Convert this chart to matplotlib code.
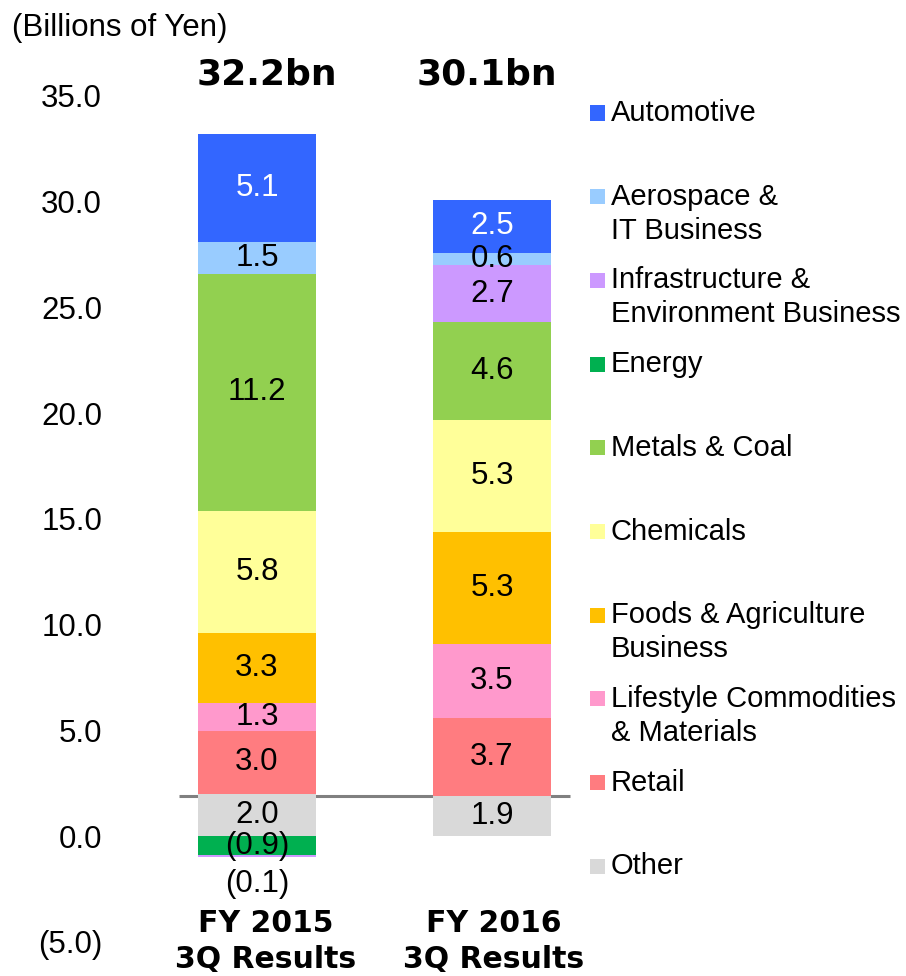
import matplotlib
matplotlib.use('Agg')
import matplotlib.pyplot as plt
from matplotlib.patches import Rectangle
import numpy as np

# Data (billions of yen)
categories = ['FY 2015\n3Q Results', 'FY 2016\n3Q Results']
segments = ['Automotive', 'Aerospace &\nIT Business', 'Infrastructure &\nEnvironment Business',
            'Energy', 'Metals & Coal', 'Chemicals', 'Foods & Agriculture\nBusiness',
            'Lifestyle Commodities\n& Materials', 'Retail', 'Other']
colors = ['#3366FF', '#99CCFF', '#CC99FF', '#00B050', '#92D050', '#FFFF99',
          '#FFC000', '#FF99CC', '#FF7C80', '#D9D9D9']
fy2015 = [5.1, 1.5, -0.1, -0.9, 11.2, 5.8, 3.3, 1.3, 3.0, 2.0]
fy2016 = [2.5, 0.6, 2.7, 0.0, 4.6, 5.3, 5.3, 3.5, 3.7, 1.9]
yticks = [-5, 0, 5, 10, 15, 20, 25, 30, 35]
baseline_value = 1.9

W, H = 906, 976
fig = plt.figure(figsize=(W / 100, H / 100), dpi=100)
ax = fig.add_axes([116 / W, 34 / H, 517 / W, 846 / H])
ax.set_xlim(-0.6, 1.6)
ax.set_ylim(-5, 35)
for s in ax.spines.values():
    s.set_visible(False)
ax.set_xticks([])
ax.set_yticks(yticks)
ax.set_yticklabels([f'({abs(v):.1f})' if v < 0 else f'{v:.1f}' for v in yticks],
                   fontsize=22.5, family='Liberation Sans')
ax.tick_params(axis='y', length=0, pad=10)

width = 0.502
series = np.array([fy2015, fy2016])
x = np.arange(len(categories))
total_dx = [7, -4]     # header nudges (points)
cat_dx = [6, 1]        # category label nudges (points)

# gray reference line behind bars
ax.hlines(baseline_value, -0.33, 1.33, color='#808080', lw=2.2, zorder=1)

# stack from bottom (Other) to top (Automotive)
for i, xi in enumerate(x):
    pos, neg = 0.0, 0.0
    for j in reversed(range(len(segments))):
        v = series[i, j]
        if v == 0:
            continue
        if v > 0:
            bottom = pos
            pos += v
        else:
            bottom = neg
            neg += v
        ax.bar(xi, v, width, bottom=bottom, color=colors[j], zorder=2)
        txt = f'({abs(v):.1f})' if v < 0 else f'{v:.1f}'
        tc = 'white' if j == 0 else 'black'
        if abs(v) < 0.3:
            ax.annotate(txt, (xi, bottom + v), xytext=(0, -19), textcoords='offset points',
                        ha='center', va='center', fontsize=22.5, family='Liberation Sans',
                        color=tc, zorder=3, annotation_clip=False)
        else:
            ax.text(xi, bottom + v / 2, txt, ha='center', va='center', fontsize=22.5,
                    family='Liberation Sans', color=tc, zorder=3)
    total = series[i].sum()
    ax.annotate(f'{total:.1f}bn', (xi, 36.0), xytext=(total_dx[i], 0),
                textcoords='offset points', ha='center', va='center', fontsize=26,
                fontweight='bold', family='DejaVu Sans', annotation_clip=False)
    ax.annotate(categories[i], (xi, -4.98), xytext=(cat_dx[i], 0),
                textcoords='offset points', ha='center', va='center', fontsize=21.5,
                fontweight='bold', family='DejaVu Sans', linespacing=1.33,
                annotation_clip=False)

fig.text(12 / W, 1 - 28 / H, '(Billions of Yen)', ha='left', va='center',
         fontsize=22.5, family='Liberation Sans')

# custom legend
y0, step, line_h = 113, 83.7, 34
for k, (lab, col) in enumerate(zip(segments, colors)):
    yc = y0 + k * step
    fig.add_artist(Rectangle((590 / W, 1 - (yc + 7.5) / H), 15 / W, 15 / H,
                             transform=fig.transFigure, facecolor=col, edgecolor='none'))
    for n, line in enumerate(lab.split('\n')):
        fig.text(611 / W, 1 - (yc + n * line_h) / H, line, ha='left', va='center',
                 fontsize=21, family='Liberation Sans')

fig.savefig('out.png', dpi=100)
